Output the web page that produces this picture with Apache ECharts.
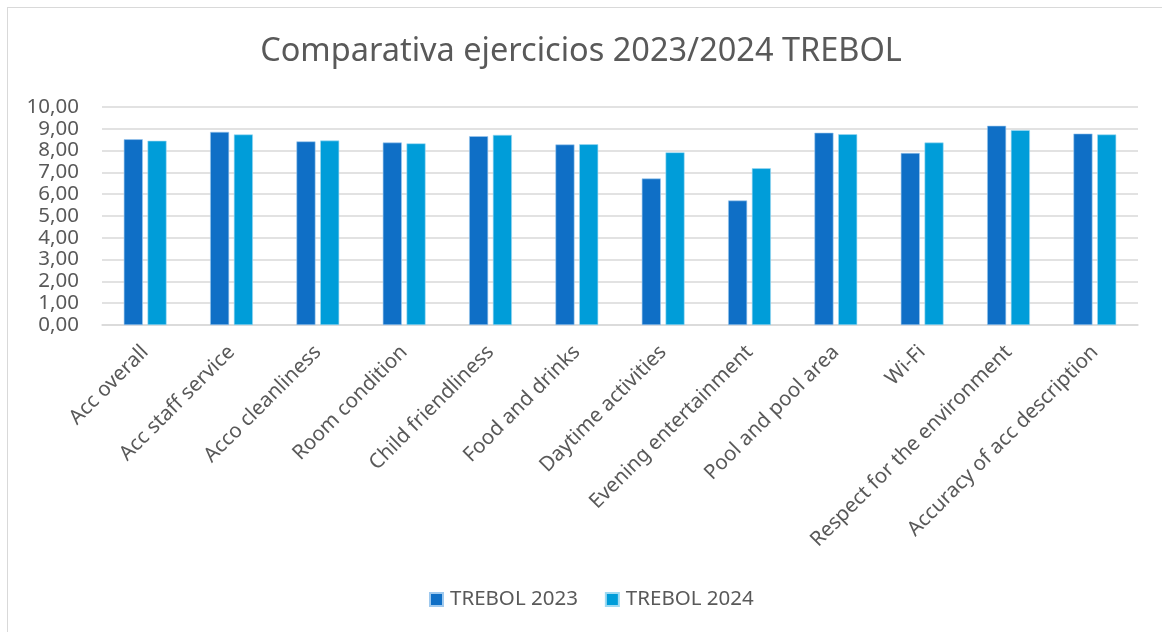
<!DOCTYPE html>
<html>
<head>
    <meta charset="UTF-8">
    <title>Comparativa ejercicios 2023/2024 TREBOL</title>
    <script src="https://cdn.jsdelivr.net/npm/echarts@6/dist/echarts.min.js"></script>
</head>
<body style="margin:0;background:#fff;">
<div style="position:absolute;left:7px;top:7px;width:1170px;height:640px;border:1px solid #d9d9d9;"></div>
<div id="chart" style="position:absolute;left:0;top:0;width:1162px;height:632px;"></div>
<script type="text/javascript">

    var categories = ['Acc overall', 'Acc staff service', 'Acco cleanliness', 'Room condition',
        'Child friendliness', 'Food and drinks', 'Daytime activities', 'Evening entertainment',
        'Pool and pool area', 'Wi-Fi', 'Respect for the environment', 'Accuracy of acc description'];
    var trebol2023 = [8.52, 8.86, 8.42, 8.37, 8.66, 8.28, 6.72, 5.71, 8.82, 7.89, 9.14, 8.78];
    var trebol2024 = [8.45, 8.74, 8.46, 8.33, 8.72, 8.29, 7.92, 7.19, 8.75, 8.37, 8.94, 8.74];

    var font = 'Noto Sans';
    var grey = '#595959';

    var myChart = echarts.init(document.getElementById('chart'));

    myChart.setOption({
        animation: false,
        title: {
            text: 'Comparativa ejercicios 2023/2024 TREBOL',
            left: 'center',
            top: 30,
            textStyle: {fontFamily: font, fontSize: 32.5, fontWeight: 'normal', color: grey}
        },
        legend: {
            data: ['TREBOL 2023', 'TREBOL 2024'],
            bottom: 17,
            left: 424,
            icon: 'rect',
            itemWidth: 13,
            itemHeight: 13,
            itemGap: 27,
            textStyle: {fontFamily: font, fontSize: 20.5, color: grey, padding: [0, 0, 0, 2]}
        },
        grid: {left: 102, right: 24, top: 107, height: 218, containLabel: false},
        xAxis: {
            type: 'category',
            data: categories,
            axisLine: {lineStyle: {color: '#d9d9d9', width: 1.5}},
            axisTick: {show: false},
            axisLabel: {
                rotate: 45,
                interval: 0,
                margin: 24,
                fontFamily: font,
                fontSize: 20.5,
                color: grey
            }
        },
        yAxis: {
            type: 'value',
            min: 0,
            max: 10,
            interval: 1,
            axisLine: {show: false},
            axisTick: {show: false},
            splitLine: {lineStyle: {color: '#d9d9d9', width: 1.5}},
            axisLabel: {
                margin: 23,
                fontFamily: font,
                fontSize: 20.5,
                color: grey,
                formatter: function (v) {
                    return v.toFixed(2).replace('.', ',');
                }
            }
        },
        series: [
            {
                name: 'TREBOL 2023',
                type: 'bar',
                data: trebol2023,
                barWidth: 19,
                barGap: '25%',
                itemStyle: {color: '#0F6FC6', borderColor: '#9fc9ee', borderWidth: 0.6}
            },
            {
                name: 'TREBOL 2024',
                type: 'bar',
                data: trebol2024,
                barWidth: 19,
                itemStyle: {color: '#009DD9', borderColor: '#9fdaf2', borderWidth: 0.6}
            }
        ]
    });
</script>
</body>
</html>
